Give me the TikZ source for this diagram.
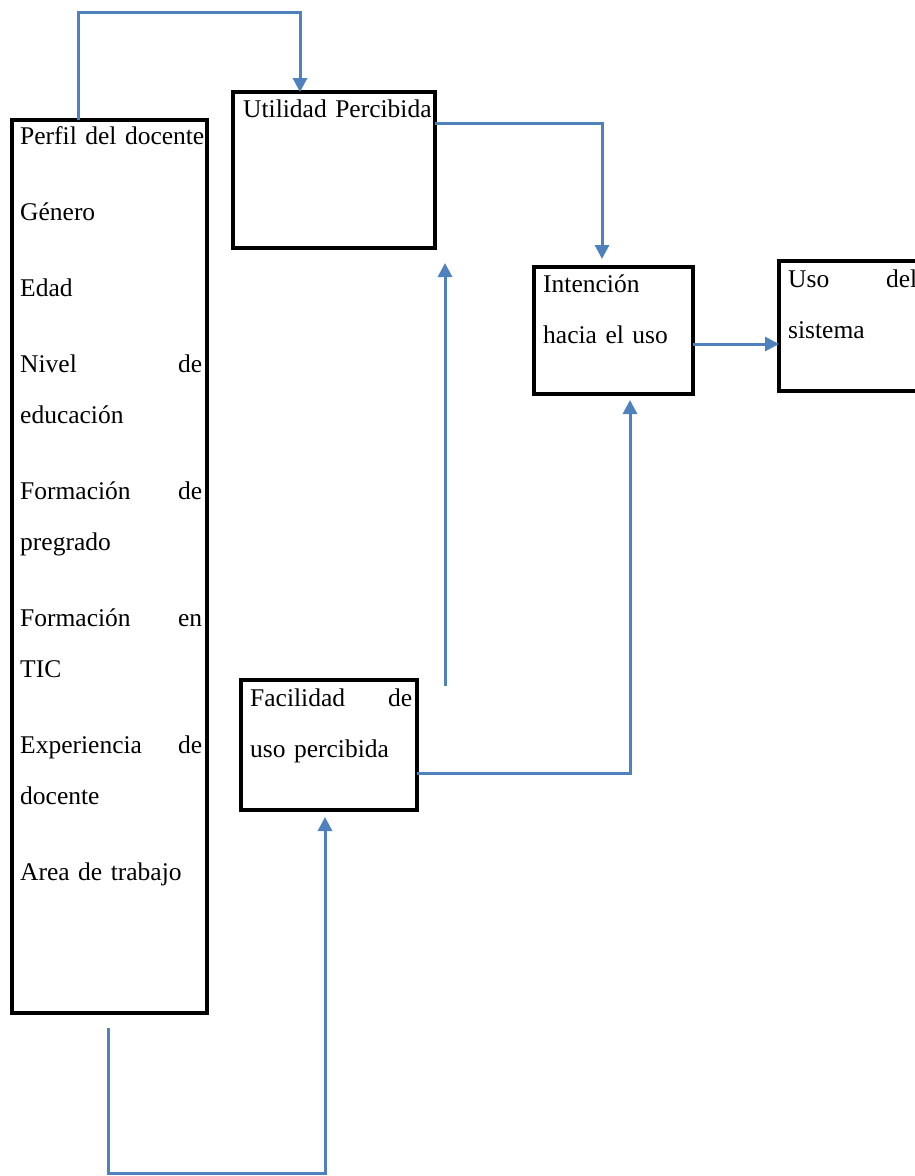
\documentclass[tikz,border=0pt]{standalone}
\usepackage{fontspec}
\setmainfont{Liberation Serif}
\usetikzlibrary{arrows.meta}
\definecolor{linkblue}{RGB}{79,129,189}
\tikzset{
    box/.style={draw,line width=3.5pt,anchor=north west,inner sep=0pt,outer sep=0pt},
    txt/.style={anchor=base west,inner sep=0pt,align=left,font=\fontsize{25.5}{51}\selectfont},
    link/.style={linkblue,line width=3pt,-{Triangle[length=14pt,width=14pt]}},
}
\begin{document}
\begin{tikzpicture}[x=1pt,y=-1pt]
        \useasboundingbox (0,0) rectangle (915,1176);
        %% boxes
        \node[box,minimum width=195pt,minimum height=893pt] (perfil) at (12,120) {};
        \node[box,minimum width=202pt,minimum height=156pt] (utilidad) at (233,92) {};
        \node[box,minimum width=159pt,minimum height=127pt] (intencion) at (534,267) {};
        \node[box,minimum width=160pt,minimum height=130pt] (uso) at (779,261) {};
        \node[box,minimum width=176pt,minimum height=130pt] (facilidad) at (241,680) {};
        %% texts
        \node[txt,text width=182pt] (perfiltxt) at ([shift={(8,24)}]perfil.north west) {%
            \mbox{Perfil del docente}\\[25pt]
            Género\\[25pt]
            Edad\\[25pt]
            Nivel\hfill de\\
            educación\\[25pt]
            Formación\hfill de\\
            pregrado\\[25pt]
            Formación\hfill en\\
            TIC\\[25pt]
            Experiencia\hfill de\\
            docente\\[25pt]
            Area de trabajo};
        \node[txt,text width=190pt] (utilidadtxt) at ([shift={(10,25)}]utilidad.north west) {\mbox{Utilidad Percibida}};
        \node[txt,text width=148pt] (intenciontxt) at ([shift={(9,25)}]intencion.north west) {Intención\\hacia el uso};
        \node[txt,text width=129pt] (usotxt) at ([shift={(9,26)}]uso.north west) {Uso\hfill del\\sistema};
        \node[txt,text width=162pt] (facilidadtxt) at ([shift={(9,26)}]facilidad.north west) {Facilidad\hfill de\\uso percibida};
        %% connectors
        \coordinate (pu) at (445,686);
        \coordinate (pb) at (108,1028);
        \draw[link] ([xshift=66pt]perfil.north west) -- ++(0,-108) -| ([xshift=67pt]utilidad.north west);
        \draw[link] ([yshift=-31pt]utilidad.north east) -| ([xshift=68pt,yshift=8pt]intencion.north west);
        \draw[link] ([yshift=-77pt]intencion.north east) -- ([yshift=-83pt]uso.north west);
        \draw[link] (pu) -- ([xshift=10pt,yshift=-15pt]utilidad.south east);
        \draw[link] ([yshift=-93pt]facilidad.north east) -| ([xshift=96pt,yshift=-6pt]intencion.south west);
        \draw[link] (pb) -- ++(0,145) -| ([xshift=84pt,yshift=-7pt]facilidad.south west);
    \end{tikzpicture}
\end{document}
